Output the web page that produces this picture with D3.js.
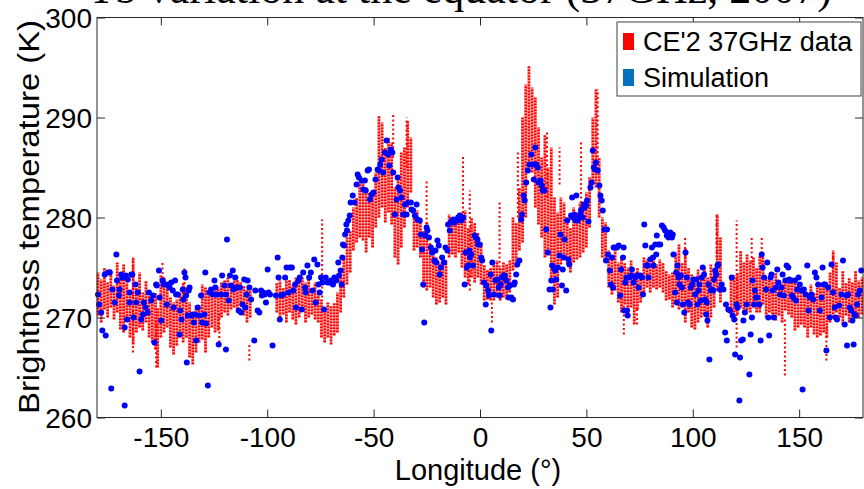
<!DOCTYPE html>
<html>
<head>
<meta charset="utf-8">
<script src="https://cdn.jsdelivr.net/npm/d3@7"></script>
<style>
	body { margin: 0; background: #fff; }
	svg { display: block; }
</style>
</head>
<body>
<svg id="chart"></svg>
<script>
// axis ticks
const xTicks = [-150, -100, -50, 0, 50, 100, 150];
const yTicks = [260, 270, 280, 290, 300];

// CE'2 37GHz data: dense vertical streaks [longitude, low Tb, high Tb]
const ce2Core = [
	[-179.5, 270.2, 274.5], [-178, 269.5, 273.8], [-176.5, 270.8, 275.0], [-175, 270.0, 273.5],
	[-173.5, 271.0, 274.8], [-172, 269.8, 273.2], [-170.5, 270.5, 275.5], [-169, 268.8, 274.0],
	[-167.5, 268.5, 275.3], [-166, 269.8, 273.5], [-164.5, 268.0, 272.8], [-163, 267.3, 276.0],
	[-161.5, 268.5, 273.0], [-160, 269.0, 274.5], [-158.5, 268.7, 272.5], [-157, 269.5, 273.7],
	[-155.5, 268.0, 272.2], [-154, 267.5, 271.8], [-152.5, 266.8, 272.5], [-151.5, 265.0, 271.0],
	[-150, 268.0, 274.2], [-148.5, 268.5, 274.0], [-147, 269.0, 273.2], [-145.5, 267.0, 272.0],
	[-144, 266.3, 271.5], [-142.5, 267.2, 271.8], [-141, 268.0, 272.5], [-139.5, 267.5, 273.5],
	[-138, 268.0, 273.0], [-136.5, 266.0, 271.5], [-135, 265.3, 270.5], [-133.5, 266.5, 271.2],
	[-132, 267.5, 271.0], [-130.5, 267.8, 273.3], [-129, 266.5, 273.0], [-127.5, 268.0, 272.5],
	[-126, 269.0, 272.3], [-124.5, 268.5, 273.3], [-123, 268.7, 273.0], [-121.5, 270.0, 273.5],
	[-120, 270.5, 273.7], [-118.5, 270.2, 274.0], [-117, 270.8, 273.5], [-115.5, 271.0, 274.2],
	[-114, 270.5, 273.8], [-112.5, 271.2, 273.5], [-111, 270.2, 273.2], [-109.5, 269.5, 272.8],
	[-108, 270.0, 273.0],
	[-95.5, 270.5, 273.5], [-94, 270.0, 273.7], [-92.5, 270.3, 273.0], [-91, 269.5, 274.0],
	[-89.5, 270.5, 273.8], [-88, 269.8, 273.2], [-86.5, 269.3, 274.0], [-85, 270.0, 273.5],
	[-83.5, 270.8, 274.0], [-82, 269.5, 273.5], [-80.5, 270.0, 273.8], [-79, 270.3, 272.8],
	[-77.5, 269.8, 273.5], [-76, 269.5, 272.5], [-74.5, 268.0, 271.8], [-73, 267.5, 271.0],
	[-71.5, 268.0, 271.5], [-70, 267.3, 271.2], [-68.5, 268.2, 271.5], [-67, 268.5, 272.5],
	[-65.5, 270.5, 274.0], [-64, 272.0, 276.0], [-62.5, 273.3, 278.0], [-61, 274.5, 278.7],
	[-59.5, 276.7, 281.0], [-58, 277.5, 282.0], [-56.5, 278.0, 283.5], [-55, 277.7, 284.0],
	[-53.5, 276.5, 283.0], [-52, 278.0, 282.5], [-50.5, 277.0, 282.0], [-49, 279.0, 284.5],
	[-47.5, 280.0, 290.2], [-46, 281.0, 289.5], [-44.5, 279.5, 287.0], [-43, 280.5, 288.0],
	[-41.5, 279.3, 287.5], [-40, 276.0, 283.0], [-38.5, 275.3, 284.0], [-37, 277.0, 286.5],
	[-35.5, 279.0, 287.0], [-34, 281.0, 289.7], [-32.5, 282.5, 288.0], [-31, 276.7, 280.5],
	[-29.5, 277.0, 280.7], [-28, 276.0, 279.5], [-26.5, 273.0, 278.7], [-25, 272.7, 279.5],
	[-23.5, 273.0, 277.5], [-22, 272.0, 276.7], [-20.5, 271.3, 276.0], [-19, 271.5, 275.5],
	[-17.5, 272.0, 276.0], [-16, 271.3, 275.8], [-14.5, 276.0, 280.3], [-13, 276.3, 280.0],
	[-11.5, 276.0, 279.5], [-10, 276.5, 280.3], [-8.5, 275.0, 280.5], [-7, 274.0, 280.7],
	[-5.5, 273.3, 279.0], [-4, 274.0, 280.0], [-2.5, 273.5, 279.5], [-1, 274.0, 278.5],
	[0.5, 273.3, 277.5], [2, 271.7, 275.3], [3.5, 271.8, 274.8], [5, 271.7, 275.0],
	[6.5, 271.7, 275.3], [8, 272.0, 275.7], [9.5, 271.7, 275.0], [11, 272.0, 275.5],
	[12.5, 271.8, 275.3], [14, 272.5, 275.7], [15.5, 274.7, 280.0], [17, 275.0, 279.5],
	[18.5, 276.7, 283.0], [20, 277.5, 290.0], [21.5, 280.0, 293.3], [23, 285.0, 295.2],
	[24.5, 284.5, 293.0], [26, 281.0, 292.0], [27.5, 279.3, 289.0], [29, 278.0, 286.0],
	[30.5, 276.0, 288.3], [32, 276.5, 285.0], [33.5, 274.0, 287.0], [35, 271.3, 282.0],
	[36.5, 272.0, 280.5], [38, 275.3, 282.0], [39.5, 276.0, 281.5], [41, 275.3, 280.0],
	[42.5, 274.5, 279.0], [44, 275.5, 281.0], [45.5, 275.8, 280.5], [47, 276.0, 281.5],
	[48.5, 276.5, 281.0], [50, 277.0, 282.5], [51.5, 279.0, 284.0], [53, 283.3, 290.0],
	[54.5, 283.0, 292.8], [56, 280.0, 286.0], [57.5, 276.0, 280.0], [59, 275.5, 279.5],
	[60.5, 273.0, 276.7], [62, 272.3, 276.0], [63.5, 272.7, 276.7], [65, 271.5, 275.5],
	[66.5, 270.5, 276.0], [68, 271.3, 275.5], [69.5, 270.7, 275.0], [71, 271.0, 275.7],
	[72.5, 269.3, 274.5], [74, 270.8, 275.0], [75.5, 271.5, 274.5], [77, 272.5, 276.0],
	[78.5, 273.0, 275.8], [80, 272.5, 275.5], [81.5, 273.0, 276.0], [83, 272.8, 275.3],
	[84.5, 273.0, 275.8], [86, 272.5, 275.5], [87.5, 271.7, 274.7], [89, 271.8, 274.3],
	[90.5, 271.0, 274.5], [92, 271.3, 276.5], [93.5, 270.8, 277.3], [95, 271.0, 275.5],
	[96.5, 269.5, 277.0], [98, 270.5, 275.0], [99.5, 269.0, 274.3], [101, 268.8, 273.5],
	[102.5, 269.5, 274.8], [104, 270.0, 274.0], [105.5, 270.3, 275.0], [107, 269.0, 274.0],
	[108.5, 270.0, 275.3], [110, 271.0, 274.5], [111.5, 272.7, 280.3], [113, 271.5, 278.0],
	[118, 270.0, 274.0], [119.5, 270.5, 274.2], [121, 270.3, 274.5], [122.5, 271.0, 276.7],
	[124, 270.5, 275.5], [125.5, 270.7, 276.3], [127, 270.5, 275.7], [128.5, 271.0, 276.0],
	[130, 270.5, 275.0], [131.5, 270.5, 276.2], [133, 271.3, 276.0], [134.5, 270.0, 274.0],
	[136, 270.5, 274.0], [137.5, 270.0, 273.7], [139, 269.7, 274.5], [140.5, 270.2, 273.8],
	[142, 269.5, 273.5], [143.5, 270.7, 273.5], [145, 270.3, 273.7], [146.5, 270.0, 274.0],
	[148, 268.7, 273.8], [149.5, 269.0, 273.5], [151, 269.3, 273.0], [152.5, 269.0, 273.0],
	[154, 268.0, 272.5], [155.5, 269.0, 273.3], [157, 268.3, 272.5], [158.5, 268.0, 273.0],
	[160, 268.2, 273.3], [161.5, 268.5, 273.5], [163, 268.0, 273.0], [164.5, 269.5, 274.5],
	[166, 270.0, 276.7], [167.5, 270.5, 275.5], [169, 270.0, 273.0], [170.5, 269.3, 274.7],
	[172, 270.2, 273.5], [173.5, 269.5, 274.0], [175, 270.0, 273.5], [176.5, 270.5, 274.7],
	[178, 270.0, 273.7], [179.5, 270.3, 274.0]
];

// CE'2 37GHz data: sparse excursions [longitude, low Tb, high Tb]
const ce2Spikes = [
	[-163.1, 266.5, 276.0], [-152.2, 265.0, 270.0], [-149.2, 273.0, 275.7], [-138.9, 272.0, 275.0],
	[-122.5, 267.5, 270.5], [-108.4, 265.7, 267.3], [-74.2, 272.0, 279.8], [-40.8, 286.0, 290.3],
	[-34.5, 285.0, 290.0], [-25.1, 278.0, 283.7], [-8.0, 280.0, 286.3], [-4.8, 272.7, 282.7],
	[5.6, 269.5, 271.7], [9.2, 275.0, 281.7], [17.8, 280.0, 286.7], [31.5, 282.0, 288.5],
	[37.4, 283.3, 287.0], [47.5, 281.0, 287.7], [55.3, 286.0, 292.8], [67.6, 268.3, 271.5],
	[73.8, 269.3, 271.0], [96.4, 275.5, 278.0], [111.2, 276.0, 280.5], [120.6, 267.0, 279.7],
	[127.7, 275.5, 278.0], [132.4, 275.5, 278.2], [143.3, 264.2, 270.0], [162.8, 265.7, 269.0],
	[165.9, 274.5, 276.7]
];

// Simulation: [longitude, Tb]
const simulation = [
	[-179.5, 272.3], [-179.0, 271.3], [-178.0, 270.5], [-177.5, 268.7], [-175.9, 268.2], [-176.4, 274.3],
	[-174.8, 274.5], [-174.0, 274.5], [-173.3, 262.9], [-172.8, 272.8], [-171.7, 271.5], [-170.9, 276.3],
	[-170.6, 273.7], [-169.7, 272.2], [-169.4, 272.8], [-168.6, 274.3], [-168.1, 274.0], [-167.0, 261.2],
	[-167.0, 269.0], [-166.5, 274.2], [-165.9, 269.8], [-165.5, 273.8], [-164.7, 271.5], [-164.7, 272.5],
	[-163.9, 274.3], [-163.4, 274.3], [-162.8, 270.0], [-161.9, 273.3], [-161.6, 271.5], [-160.8, 272.5],
	[-160.0, 264.6], [-159.2, 269.8], [-158.4, 270.3], [-158.0, 271.5], [-157.2, 271.0], [-156.1, 270.5],
	[-155.6, 272.5], [-154.5, 271.7], [-153.7, 272.2], [-153.0, 267.5], [-152.2, 273.3], [-151.9, 273.2],
	[-150.9, 274.7], [-150.6, 272.0], [-149.8, 269.7], [-149.1, 273.7], [-148.6, 273.3], [-147.5, 273.3],
	[-147.2, 271.3], [-146.2, 273.3], [-145.9, 273.0], [-145.1, 273.5], [-144.4, 272.7], [-144.0, 271.0],
	[-143.3, 273.7], [-142.8, 272.3], [-142.0, 272.3], [-141.2, 268.3], [-140.9, 270.7], [-140.3, 269.8],
	[-139.7, 272.8], [-139.4, 271.8], [-138.9, 274.5], [-138.4, 274.0], [-138.1, 272.2], [-137.8, 265.5],
	[-137.3, 270.2], [-136.9, 272.7], [-136.5, 273.0], [-135.8, 270.2], [-135.0, 270.3], [-134.5, 269.5],
	[-133.9, 270.3], [-133.4, 267.7], [-132.6, 271.0], [-131.9, 270.2], [-131.1, 272.2], [-130.6, 269.5],
	[-129.5, 270.3], [-129.1, 274.5], [-128.7, 269.4], [-127.9, 263.2], [-127.2, 272.5], [-126.4, 272.8],
	[-125.6, 272.3], [-124.8, 273.7], [-124.4, 273.0], [-123.7, 272.3], [-122.8, 267.3], [-121.7, 272.3],
	[-121.2, 274.2], [-120.1, 273.2], [-119.4, 266.8], [-119.4, 272.3], [-118.9, 277.8], [-118.1, 271.7],
	[-117.5, 274.2], [-117.0, 273.2], [-116.2, 274.7], [-115.9, 272.8], [-115.0, 274.0], [-114.7, 273.0],
	[-113.4, 270.7], [-112.8, 273.0], [-112.3, 270.5], [-111.6, 271.3], [-110.8, 273.8], [-110.3, 271.0],
	[-109.7, 272.3], [-109.2, 273.7], [-108.4, 273.0], [-107.6, 271.8], [-106.1, 267.7], [-105.6, 272.7],
	[-104.5, 270.7], [-103.7, 270.5], [-102.9, 272.7], [-102.5, 272.2], [-101.9, 272.5], [-101.2, 272.3],
	[-100.6, 271.5], [-99.8, 274.8], [-99.4, 272.5], [-98.7, 272.3], [-97.5, 267.2], [-95.9, 272.2],
	[-95.1, 276.0], [-94.7, 274.0], [-94.1, 269.8], [-93.4, 272.2], [-92.5, 272.3], [-91.6, 274.0],
	[-90.9, 275.0], [-90.0, 272.5], [-89.4, 275.0], [-88.4, 275.0], [-87.8, 272.7], [-86.9, 273.3],
	[-86.5, 271.0], [-85.3, 273.7], [-84.7, 274.0], [-83.7, 270.8], [-83.1, 274.5], [-82.2, 273.0],
	[-81.9, 272.5], [-81.1, 275.2], [-80.3, 274.0], [-79.5, 274.5], [-78.7, 272.7], [-77.9, 275.8],
	[-77.2, 271.5], [-76.4, 275.3], [-75.9, 273.3], [-75.3, 272.5], [-74.7, 274.0], [-74.1, 273.5],
	[-73.3, 270.8], [-72.5, 274.0], [-71.7, 273.5], [-70.9, 273.5], [-70.0, 273.7], [-69.1, 273.3],
	[-68.4, 274.0], [-67.5, 273.7], [-66.6, 275.5], [-66.2, 274.2], [-65.5, 274.7], [-65.0, 273.3],
	[-64.7, 276.0], [-64.4, 277.3], [-63.9, 277.2], [-63.4, 278.3], [-62.8, 279.3], [-62.5, 278.7],
	[-61.9, 279.7], [-61.2, 280.2], [-60.8, 281.5],
	[-59.8, 282.2], [-59.0, 281.5], [-58.0, 283.3], [-57.5, 284.3], [-56.9, 284.0], [-55.6, 283.7],
	[-54.8, 282.8], [-54.1, 283.7], [-53.7, 282.7], [-52.8, 284.7], [-52.2, 284.8], [-51.7, 281.8],
	[-50.9, 282.3], [-50.1, 282.5], [-49.1, 283.8], [-48.1, 284.8], [-47.5, 284.7], [-46.9, 285.3],
	[-46.2, 285.8], [-45.5, 284.5], [-44.7, 286.5], [-43.9, 287.7], [-43.1, 286.3], [-42.6, 285.2],
	[-41.9, 286.8], [-41.2, 286.5], [-40.8, 284.5], [-40.0, 280.3], [-39.2, 281.8], [-38.7, 284.0],
	[-38.4, 283.0], [-37.6, 282.7], [-36.9, 282.0], [-36.1, 280.3], [-35.3, 281.3], [-34.5, 280.3],
	[-33.7, 281.5], [-32.5, 281.5], [-32.2, 280.8], [-31.4, 280.7], [-30.6, 280.2], [-29.8, 281.3],
	[-29.4, 279.8], [-28.3, 279.7], [-27.8, 278.3], [-27.2, 276.8], [-26.7, 273.3], [-26.2, 269.5],
	[-25.6, 278.2], [-25.1, 279.0], [-24.7, 278.7], [-24.0, 278.0], [-23.1, 277.0], [-22.5, 276.5],
	[-21.5, 275.7], [-20.9, 276.7], [-20.5, 275.5], [-20.0, 277.7], [-19.4, 277.2], [-18.9, 274.3],
	[-18.4, 275.0], [-17.8, 276.0], [-16.9, 275.5], [-16.2, 277.0], [-15.3, 276.7], [-15.0, 279.3],
	[-14.2, 278.7], [-13.7, 279.5], [-13.1, 279.7], [-12.5, 279.8], [-11.9, 279.5], [-10.9, 279.7],
	[-10.3, 280.0], [-9.5, 280.2], [-8.7, 279.7], [-7.9, 280.0], [-7.2, 273.3], [-6.7, 276.5],
	[-6.2, 275.0], [-5.6, 275.2], [-5.0, 276.7], [-4.7, 276.0], [-4.1, 276.3], [-3.3, 275.2],
	[-2.5, 278.2], [-2.0, 278.0], [-1.2, 277.8], [-0.9, 277.3], [-0.1, 277.3], [0.6, 276.0],
	[1.0, 275.7], [1.9, 273.5], [2.7, 271.3], [3.0, 273.2], [3.8, 272.7], [4.2, 272.2],
	[5.0, 274.3], [5.3, 268.7], [5.8, 275.5], [6.6, 272.3], [7.2, 273.7], [8.1, 273.8],
	[8.8, 273.0], [9.2, 272.2], [9.7, 273.3], [10.3, 274.0], [11.0, 274.2], [11.6, 274.2],
	[12.4, 273.7], [13.1, 273.0], [13.5, 272.0], [14.1, 273.2], [14.7, 272.0], [15.5, 271.8],
	[16.0, 273.3], [16.3, 273.5], [17.0, 274.3], [17.5, 275.3], [18.5, 275.7], [19.4, 279.8],
	[19.7, 280.3], [20.5, 282.2], [21.0, 281.7], [21.7, 283.5], [22.5, 284.7], [23.3, 285.3],
	[24.1, 286.3], [24.9, 285.3], [25.3, 283.8], [26.0, 287.0], [26.4, 285.3], [27.2, 285.0],
	[27.5, 283.5], [28.5, 283.7], [29.1, 283.2], [29.5, 282.7], [30.3, 282.7], [31.1, 278.8],
	[31.9, 276.5], [32.7, 272.8], [33.1, 271.0], [33.5, 273.7], [33.9, 275.2], [34.2, 272.8],
	[34.7, 275.0], [35.3, 274.7], [35.8, 273.8], [36.6, 275.0], [37.4, 276.2], [37.8, 278.3],
	[38.5, 273.2], [38.9, 274.8], [39.4, 276.0], [39.7, 277.8], [40.5, 272.7], [41.0, 279.7],
	[41.6, 275.8], [42.0, 275.3], [42.8, 280.2], [43.3, 282.0], [43.6, 280.0], [44.4, 280.3],
	[44.9, 279.7], [45.3, 282.2], [45.9, 279.7], [46.7, 280.0], [47.2, 280.3], [47.5, 280.7],
	[47.8, 280.8], [48.3, 280.0], [48.8, 281.3], [49.1, 281.0], [49.9, 281.2], [50.3, 281.7],
	[51.0, 279.6], [51.9, 283.0], [52.5, 283.5], [53.0, 286.7], [53.5, 285.0], [54.1, 284.8],
	[54.5, 285.5], [55.3, 284.7], [56.1, 283.2], [56.6, 282.2], [57.2, 281.7], [57.7, 280.7],
	[58.5, 278.8], [59.2, 275.7],
	[59.7, 278.8], [60.2, 276.3], [61.0, 274.7], [61.6, 273.3], [62.0, 276.0], [62.5, 273.0],
	[62.8, 277.0], [63.6, 277.0], [64.4, 277.0], [65.2, 277.2], [65.9, 272.2], [66.3, 274.8],
	[67.2, 276.0], [67.5, 277.0], [67.8, 270.7], [68.3, 273.5], [68.8, 274.0], [69.1, 270.7],
	[69.4, 270.2], [70.3, 274.0], [71.0, 274.2], [71.4, 274.8], [72.2, 273.5], [73.0, 274.0],
	[73.8, 274.2], [74.5, 273.0], [75.3, 274.2], [76.1, 274.0], [76.6, 272.3], [77.2, 279.3],
	[77.7, 277.2], [78.1, 275.2], [78.8, 275.2], [79.2, 274.0], [80.0, 275.8], [80.8, 277.0],
	[81.3, 276.0], [81.6, 275.2], [82.4, 277.3], [82.8, 276.3], [83.1, 278.2], [83.9, 277.3],
	[84.7, 277.3], [85.5, 279.2], [86.3, 279.0], [87.0, 278.7], [87.8, 278.2], [88.6, 278.0],
	[89.4, 278.5], [90.2, 278.0], [90.6, 278.3], [90.9, 276.3], [91.7, 272.5], [92.2, 274.5],
	[92.5, 271.5], [92.8, 275.2], [93.3, 274.0], [93.8, 273.3], [94.4, 274.2], [94.9, 273.0],
	[95.3, 271.3], [96.0, 270.5], [96.6, 276.5], [97.2, 274.0], [97.8, 271.5], [98.5, 271.3],
	[99.1, 273.0], [99.7, 273.3], [100.3, 273.8], [101.1, 272.3], [101.6, 273.8], [102.2, 271.3],
	[102.7, 272.7], [103.1, 273.3], [103.8, 271.7], [104.2, 274.0], [104.7, 275.0], [105.3, 274.3],
	[105.8, 271.8], [106.3, 270.3], [106.6, 271.5], [106.9, 269.7], [107.4, 273.3], [107.8, 265.8],
	[108.5, 272.7], [108.9, 272.8], [109.7, 272.7], [110.0, 273.8], [110.5, 274.7], [111.0, 274.3],
	[111.6, 275.2], [112.0, 275.3], [112.8, 272.8], [113.6, 273.3], [114.4, 272.8], [115.2, 268.5],
	[115.6, 271.3], [116.0, 267.7], [116.7, 270.8], [117.5, 270.7], [118.3, 274.0], [118.8, 270.2],
	[119.5, 269.8], [119.9, 266.3], [120.6, 271.3], [121.1, 271.0], [121.9, 261.7], [122.2, 266.0],
	[122.7, 267.7], [123.5, 267.8], [123.8, 269.7], [124.5, 270.5], [125.3, 271.3], [126.6, 264.3],
	[127.2, 268.3], [127.8, 270.0], [128.1, 273.7], [128.8, 271.3], [129.2, 272.7], [129.7, 272.0],
	[130.3, 272.0], [131.3, 271.3], [131.9, 267.7], [132.4, 276.3], [132.8, 275.0], [133.5, 274.0],
	[134.4, 272.8], [135.0, 275.5], [135.5, 270.0], [135.9, 268.2], [136.6, 274.0], [137.0, 274.3],
	[137.5, 272.7], [138.1, 270.0], [139.1, 273.0], [139.7, 274.8], [140.2, 273.5], [141.0, 272.3],
	[141.7, 273.0], [142.2, 274.3], [142.8, 272.2], [143.5, 273.7], [144.1, 275.2], [144.9, 275.0],
	[145.3, 273.8], [145.9, 273.7], [146.6, 272.2], [147.2, 272.0], [148.0, 273.7], [148.5, 271.7],
	[149.1, 272.8], [149.7, 274.0], [150.3, 273.3], [151.1, 272.7], [151.6, 262.8], [152.2, 272.8],
	[153.1, 272.3], [153.8, 275.2], [154.4, 270.7], [155.0, 272.0], [155.8, 272.3], [156.6, 271.8],
	[157.4, 274.5], [158.1, 274.0], [158.9, 273.3], [159.7, 270.7], [160.5, 272.0], [161.0, 275.0],
	[161.6, 273.3], [162.2, 273.3], [162.8, 266.7], [163.6, 273.0], [164.4, 270.0], [165.2, 275.3],
	[165.9, 272.5], [166.7, 271.0], [167.2, 270.0], [167.8, 269.8], [168.8, 271.2], [169.9, 272.3],
	[170.6, 275.7], [171.4, 269.3], [172.2, 272.2], [172.5, 267.2], [173.0, 272.3], [173.8, 271.0],
	[174.5, 270.7], [175.0, 269.7], [175.6, 267.3], [176.1, 270.3], [176.6, 270.2], [177.2, 271.3],
	[177.7, 272.3], [178.5, 272.7], [179.2, 274.7]
];

const legendItems = [
	{ label: "CE'2 37GHz data", color: "#ff0000" },
	{ label: "Simulation", color: "#0072bd" }
];

const W = 864, H = 489;
const margin = { top: 17.5, right: 1, bottom: 71.5, left: 97 };
const width = W - margin.left - margin.right;
const height = H - margin.top - margin.bottom;
const sans = "'Liberation Sans', Arial, sans-serif";

const svg = d3.select("#chart")
	.attr("width", W)
	.attr("height", H)
	.style("background", "#fff");

// title, mostly cut off by the top edge like the source image
svg.append("text")
	.attr("x", 832)
	.attr("y", 3)
	.attr("text-anchor", "end")
	.style("font-family", "'Liberation Serif', 'Times New Roman', serif")
	.style("font-size", "44px")
	.text("Tb variation at the equator (37GHz, 2007)");

const g = svg.append("g")
	.attr("transform", `translate(${margin.left},${margin.top})`);

const x = d3.scaleLinear().domain([-180, 180]).range([0, width]);
const y = d3.scaleLinear().domain([260, 300]).range([height, 0]);

g.append("rect")
	.attr("width", width)
	.attr("height", height)
	.attr("fill", "#fff");

const plot = g.append("g");

// red data: dense streaks then sparse excursions
plot.selectAll(".core")
	.data(ce2Core)
	.enter()
	.append("line")
	.attr("class", "core")
	.attr("x1", d => x(d[0]))
	.attr("x2", d => x(d[0]))
	.attr("y1", d => y(d[1]))
	.attr("y2", d => y(d[2]))
	.attr("stroke", "#ff0000")
	.attr("stroke-width", 2.8)
	.attr("stroke-dasharray", "2.2,0.8");

plot.selectAll(".spike")
	.data(ce2Spikes)
	.enter()
	.append("line")
	.attr("class", "spike")
	.attr("x1", d => x(d[0]))
	.attr("x2", d => x(d[0]))
	.attr("y1", d => y(d[1]))
	.attr("y2", d => y(d[2]))
	.attr("stroke", "#ff0000")
	.attr("stroke-width", 2)
	.attr("stroke-dasharray", "2,2.5");

plot.selectAll(".sim")
	.data(simulation)
	.enter()
	.append("circle")
	.attr("class", "sim")
	.attr("cx", d => x(d[0]))
	.attr("cy", d => y(d[1]))
	.attr("r", 3)
	.attr("fill", "#0000ff");

// axes: MATLAB-style ticks pointing inwards on all four sides
const axisColor = "#262626";
const tickLen = 8;
const plainNum = d => String(d);

const axisBottomG = g.append("g")
	.attr("transform", `translate(0,${height})`)
	.call(d3.axisBottom(x).tickValues(xTicks).tickFormat(plainNum).tickSizeInner(-tickLen).tickSizeOuter(0).tickPadding(10));
const axisTopG = g.append("g")
	.call(d3.axisTop(x).tickValues(xTicks).tickSizeInner(-tickLen).tickSizeOuter(0).tickFormat(""));
const axisLeftG = g.append("g")
	.call(d3.axisLeft(y).tickValues(yTicks).tickFormat(plainNum).tickSizeInner(-tickLen).tickSizeOuter(0).tickPadding(5));
const axisRightG = g.append("g")
	.attr("transform", `translate(${width},0)`)
	.call(d3.axisRight(y).tickValues(yTicks).tickSizeInner(-tickLen).tickSizeOuter(0).tickFormat(""));

[axisBottomG, axisTopG, axisLeftG, axisRightG].forEach(a => {
	a.select(".domain").remove();
	a.selectAll("line").attr("stroke", axisColor);
	a.selectAll("text")
		.attr("fill", "#000")
		.style("font-family", sans)
		.style("font-size", "28px");
});
axisBottomG.selectAll("text").attr("dy", "0.71em");
axisLeftG.selectAll("text").attr("dy", "0.36em");

g.append("rect")
	.attr("width", width)
	.attr("height", height)
	.attr("fill", "none")
	.attr("stroke", axisColor)
	.attr("stroke-width", 1);

// axis titles
svg.append("text")
	.attr("x", margin.left + width / 2 - 2)
	.attr("y", 480)
	.attr("text-anchor", "middle")
	.style("font-family", sans)
	.style("font-size", "29px")
	.text("Longitude (°)");

svg.append("text")
	.attr("transform", `translate(39,217) rotate(-90)`)
	.attr("text-anchor", "middle")
	.attr("textLength", 394)
	.attr("lengthAdjust", "spacingAndGlyphs")
	.style("font-family", sans)
	.style("font-size", "30px")
	.text("Brightness temperature (K)");

// legend
const legend = svg.append("g").attr("transform", "translate(617,22)");
legend.append("rect")
	.attr("width", 244)
	.attr("height", 74)
	.attr("fill", "#fff")
	.attr("stroke", "#404040")
	.attr("stroke-width", 1);

const rows = legend.selectAll(".row")
	.data(legendItems)
	.enter()
	.append("g")
	.attr("transform", (d, i) => `translate(0,${i * 36})`);

rows.append("rect")
	.attr("x", 6)
	.attr("y", 11)
	.attr("width", 11)
	.attr("height", 17)
	.attr("fill", d => d.color);

rows.append("text")
	.attr("x", 26)
	.attr("y", 29)
	.style("font-family", sans)
	.style("font-size", "27px")
	.text(d => d.label);
</script>
</body>
</html>
